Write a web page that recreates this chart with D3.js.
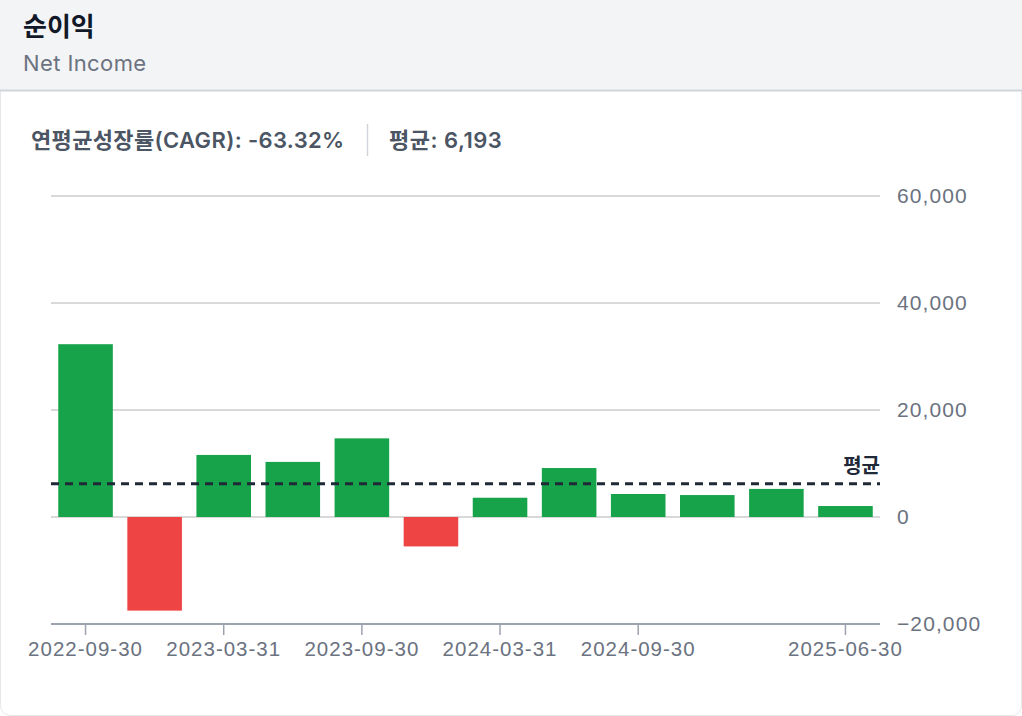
<!DOCTYPE html>
<html>
<head>
<meta charset="utf-8">
<script src="https://cdn.jsdelivr.net/npm/d3@7"></script>
<style>
  html, body { margin: 0; padding: 0; background: #fff; }
  svg { display: block; font-family: Inter, "Noto Sans CJK KR", "Noto Sans", sans-serif; }
</style>
</head>
<body>
<svg id="chart" width="1022" height="716"></svg>
<script>
// ---- data ----
const categories = ["2022-09-30","2022-12-31","2023-03-31","2023-06-30","2023-09-30","2023-12-31",
                    "2024-03-31","2024-06-30","2024-09-30","2024-12-31","2025-03-31","2025-06-30"];
const netIncome = [32300, -17500, 11600, 10300, 14700, -5500, 3600, 9150, 4300, 4100, 5250, 2050];
const yTicks = [-20000, 0, 20000, 40000, 60000];
const xTickLabels = ["2022-09-30","2023-03-31","2023-09-30","2024-03-31","2024-09-30","2025-06-30"];
const averageValue = 6193;
const cagrText = "-63.32%";
const titleText = "순이익";
const subtitleText = "Net Income";

const svg = d3.select("#chart");
const W = 1022, H = 716;

// card + header
svg.append("rect").attr("x", 0.5).attr("y", -20).attr("width", W - 1).attr("height", H + 19.5)
  .attr("rx", 10).attr("fill", "#fff").attr("stroke", "#e5e7eb");
svg.append("rect").attr("x", 0).attr("y", 0).attr("width", W).attr("height", 90).attr("fill", "#f3f4f6");
svg.append("line").attr("x1", 0).attr("x2", W).attr("y1", 90.5).attr("y2", 90.5)
  .attr("stroke", "#d1d5db").attr("stroke-width", 2);
svg.append("text").attr("x", 23).attr("y", 36).text(titleText)
  .attr("font-size", 26).attr("font-weight", 700).attr("fill", "#111827");
svg.append("text").attr("x", 23).attr("y", 71).text(subtitleText)
  .attr("font-size", 22).attr("letter-spacing", 0.4).attr("fill", "#6b7280");

// stats row
svg.append("text").attr("x", 31).attr("y", 148).text("연평균성장률(CAGR): " + cagrText)
  .attr("font-size", 22).attr("letter-spacing", 0.35).attr("font-weight", 600).attr("fill", "#4b5563");
svg.append("line").attr("x1", 367.5).attr("x2", 367.5).attr("y1", 124).attr("y2", 156)
  .attr("stroke", "#d1d5db").attr("stroke-width", 1.5);
svg.append("text").attr("x", 389).attr("y", 148).text("평균: " + d3.format(",")(averageValue))
  .attr("font-size", 22).attr("letter-spacing", 0.5).attr("font-weight", 600).attr("fill", "#4b5563");

// scales
const x = d3.scaleBand().domain(categories).range([51, 880]).paddingInner(0.21).paddingOuter(0.105);
const y = d3.scaleLinear().domain([-20000, 60000]).range([624, 196]);

// gridlines
svg.append("g").selectAll("line").data(yTicks.filter(t => t > -20000)).join("line")
  .attr("x1", 51).attr("x2", 880)
  .attr("y1", d => y(d)).attr("y2", d => y(d))
  .attr("stroke", "#cccccc").attr("stroke-width", 1.5);

// y axis (right) labels
const yAxis = d3.axisRight(y).tickValues(yTicks).tickSize(0).tickPadding(17).tickFormat(d3.format(","));
const gy = svg.append("g").attr("transform", "translate(880,0)").call(yAxis);
gy.select(".domain").remove();
gy.selectAll("text").attr("font-size", 21).attr("letter-spacing", 1.1)
  .attr("fill", "#6b7280").attr("font-family", null);

// bars
svg.append("g").selectAll("rect").data(netIncome).join("rect")
  .attr("x", (d, i) => x(categories[i]))
  .attr("width", x.bandwidth())
  .attr("y", d => y(Math.max(0, d)))
  .attr("height", d => Math.abs(y(d) - y(0)))
  .attr("fill", d => d >= 0 ? "#16a34a" : "#ef4444");

// x axis
const xAxis = d3.axisBottom(x).tickValues(xTickLabels).tickSize(11).tickPadding(6);
const gx = svg.append("g").attr("transform", `translate(0,${y(-20000)})`).call(xAxis);
gx.select(".domain").attr("stroke", "#9ca3af").attr("stroke-width", 2)
  .attr("d", `M51,0H880`);
gx.selectAll(".tick line").attr("stroke", "#9ca3af").attr("stroke-width", 1.5);
gx.selectAll("text").attr("font-size", 20.5).attr("letter-spacing", 1)
  .attr("fill", "#6b7280").attr("font-family", null);

// average line
svg.append("line").attr("x1", 51).attr("x2", 880)
  .attr("y1", y(averageValue)).attr("y2", y(averageValue))
  .attr("stroke", "#1f2937").attr("stroke-width", 3).attr("stroke-dasharray", "8,6");
svg.append("text").attr("x", 880).attr("y", y(averageValue) - 11).attr("text-anchor", "end")
  .text("평균").attr("font-size", 20).attr("font-weight", 700).attr("fill", "#1f2937");
</script>
</body>
</html>
